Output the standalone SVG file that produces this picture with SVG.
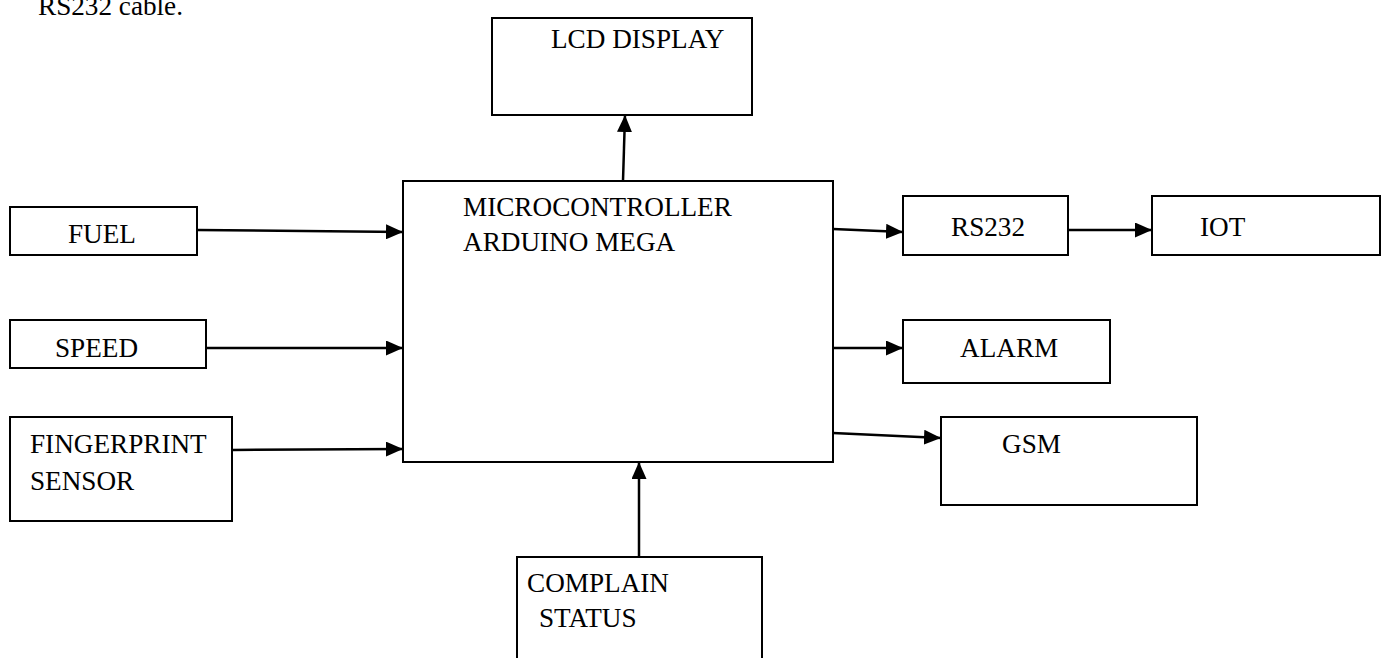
<svg xmlns="http://www.w3.org/2000/svg" width="1383" height="658" viewBox="0 0 1383 658">
<style>
.box{fill:#fff;stroke:#000;stroke-width:2}
.t{font-family:"Liberation Serif","Times New Roman",serif;font-size:27.2px;fill:#000}
.c{stroke:#000;stroke-width:2.5;fill:none;marker-end:url(#ah)}
</style>
<defs>
<marker id="ah" markerUnits="userSpaceOnUse" markerWidth="17" markerHeight="15" refX="17" refY="7.5" orient="auto">
<path d="M0,0 L17,7.5 L0,15 z" fill="#000"/>
</marker>
</defs>
<rect width="1383" height="658" fill="#fff"/>
<text class="t" x="38" y="15">RS232 cable.</text>
<g id="lcd"><rect class="box" x="492" y="18" width="260" height="97"/><text class="t" x="551" y="48">LCD DISPLAY</text></g>
<g id="micro"><rect class="box" x="403" y="181" width="430" height="281"/><text class="t" x="463" y="216">MICROCONTROLLER</text><text class="t" x="463" y="251">ARDUINO MEGA</text></g>
<g id="fuel"><rect class="box" x="10" y="207" width="187" height="48"/><text class="t" x="68" y="243">FUEL</text></g>
<g id="speed"><rect class="box" x="10" y="320" width="196" height="48"/><text class="t" x="55" y="357">SPEED</text></g>
<g id="finger"><rect class="box" x="10" y="417" width="222" height="104"/><text class="t" x="30" y="453">FINGERPRINT</text><text class="t" x="30" y="490">SENSOR</text></g>
<g id="rs232"><rect class="box" x="903" y="196" width="165" height="59"/><text class="t" x="951" y="236">RS232</text></g>
<g id="iot"><rect class="box" x="1152" y="196" width="228" height="59"/><text class="t" x="1200" y="236">IOT</text></g>
<g id="alarm"><rect class="box" x="903" y="320" width="207" height="63"/><text class="t" x="960" y="357">ALARM</text></g>
<g id="gsm"><rect class="box" x="941" y="417" width="256" height="88"/><text class="t" x="1002" y="453">GSM</text></g>
<g id="complain"><rect class="box" x="517" y="557" width="245" height="110"/><text class="t" x="527" y="592">COMPLAIN</text><text class="t" x="539" y="627">STATUS</text></g>
<g id="connectors">
<line class="c" x1="623" y1="181" x2="625" y2="115"/>
<line class="c" x1="197" y1="230" x2="403" y2="232"/>
<line class="c" x1="206" y1="348" x2="403" y2="348"/>
<line class="c" x1="232" y1="450" x2="403" y2="449"/>
<line class="c" x1="833" y1="229" x2="903" y2="232"/>
<line class="c" x1="1068" y1="230" x2="1152" y2="230"/>
<line class="c" x1="833" y1="348" x2="903" y2="348"/>
<line class="c" x1="833" y1="433" x2="941" y2="438"/>
<line class="c" x1="639" y1="557" x2="639" y2="462"/>
</g>
</svg>
